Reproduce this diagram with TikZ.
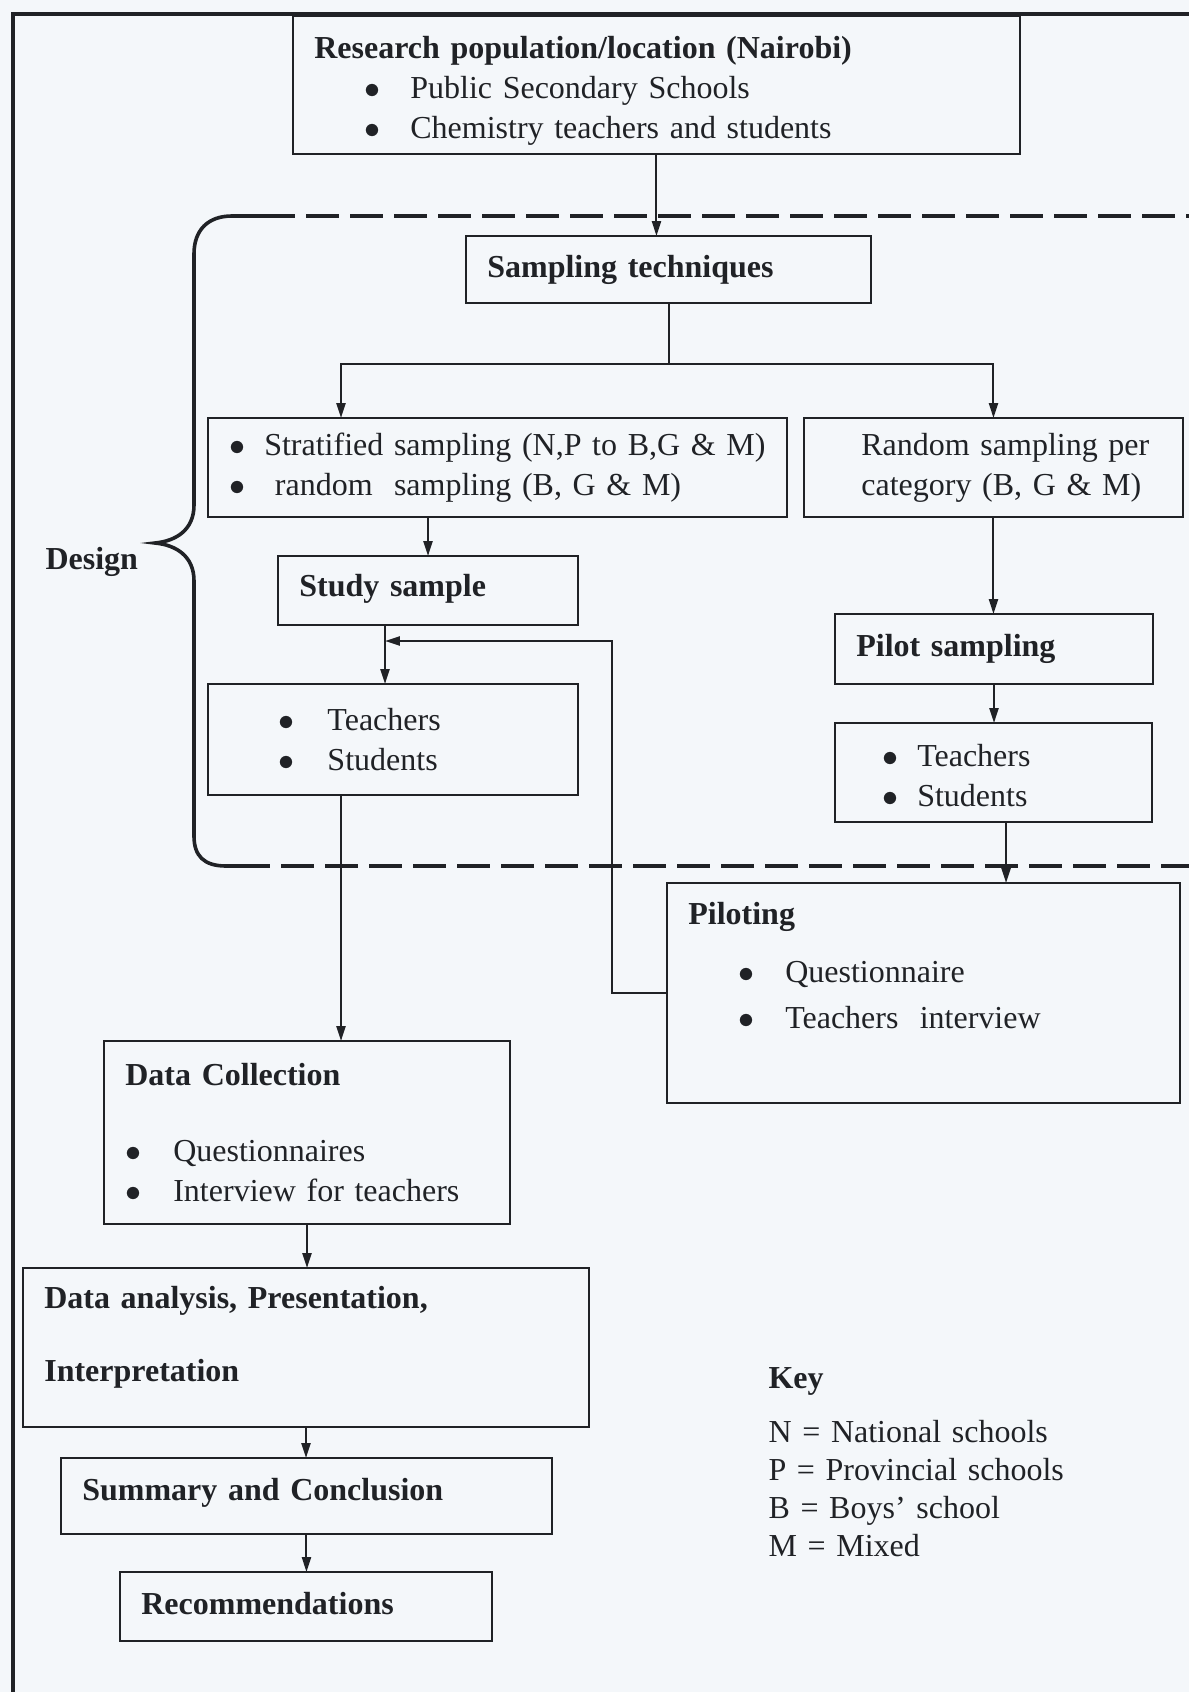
\documentclass[tikz,border=0pt]{standalone}
\usepackage{fontspec}
\setmainfont{Liberation Serif}
\usepackage{tikz}
\usetikzlibrary{arrows.meta}
\definecolor{ink}{RGB}{32,34,38}
\definecolor{paper}{RGB}{244,247,250}
\newcommand{\bpt}[2]{\hspace*{#1}\makebox[#2][l]{$\bullet$}}
\newcommand{\lift}[1]{\rule[-#1]{0pt}{#1}}
\newcommand{\sink}[1]{\rule{0pt}{#1}}

\begin{document}
\begin{tikzpicture}[x=0.375pt, y=-0.375pt,
    every node/.style={font=\fontsize{12}{15}\selectfont, text=ink},
    box/.style 2 args={draw=ink, line width=0.95pt, anchor=north west, align=left,
        inner xsep=8pt, inner ysep=0pt, outer sep=0pt, text width=#1, minimum height=#2},
    arr/.style={draw=ink, line width=0.75pt, -{Triangle[length=5.6pt,width=3.4pt]}},
    bracket/.style={draw=ink, line width=1.35pt},
    dashline/.style={bracket, dash pattern=on 12.2pt off 4.3pt}]
    \useasboundingbox (0,0) rectangle (1189,1692);
    \fill[paper] (0,0) rectangle (1189,1692);
    \draw[bracket, line width=1.5pt] (13,1692) -- (13,14) -- (1189,14);

    \node[box={256.6pt}{51.75pt}] (research) at (293,16) {\sink{13pt}\textbf{Research population/location (Nairobi)}\\
        \bpt{18.75pt}{17.25pt}Public Secondary Schools\\
        \bpt{18.75pt}{17.25pt}Chemistry teachers and students};
    \node[box={135.9pt}{25.1pt}] (sampling) at (466,236) {\textbf{Sampling techniques}};
    \node[box={201.1pt}{37.1pt}] (strat) at (208,418) {\bpt{0pt}{13.1pt}Stratified sampling (N,P to B,G \& M)\\
        \bpt{0pt}{13.1pt}\ random\ \ sampling (B, G \& M)};
    \node[box={126.1pt}{37.1pt}] (randcat) at (804,418) {\hspace*{13.5pt}Random sampling per\\
        \hspace*{13.5pt}category (B, G \& M)};
    \node[box={96.5pt}{25.9pt}] (study) at (278,556) {\textbf{Study sample}\lift{4.1pt}};
    \node[box={122.75pt}{41.6pt}] (lts) at (208,684) {\bpt{18.4pt}{18.4pt}Teachers\\ \bpt{18.4pt}{18.4pt}Students};
    \node[box={103.25pt}{26.25pt}] (pilots) at (835,614) {\textbf{Pilot sampling}};
    \node[box={102.9pt}{37.1pt}] (rts) at (835,723) {\sink{10.6pt}\bpt{9.75pt}{13.1pt}Teachers\\ \bpt{9.75pt}{13.1pt}Students};
    \node[box={176.4pt}{82.5pt}] (piloting) at (667,883) {\textbf{Piloting}\\[6.75pt]
        \bpt{18.75pt}{17.6pt}Questionnaire\\[2.25pt]
        \bpt{18.75pt}{17.6pt}Teachers\ \ interview\lift{21pt}};
    \node[box={136.25pt}{68.6pt}] (datacol) at (104,1041) {\textbf{Data Collection}\\[13.5pt]
        \bpt{0pt}{18pt}Questionnaires\\ \bpt{0pt}{18pt}Interview for teachers};
    \node[box={196.25pt}{59.6pt}] (analysis) at (23,1268) {\textbf{Data analysis, Presentation,}\\[12.4pt]
        \textbf{Interpretation}\lift{10.5pt}};
    \node[box={168.1pt}{28.5pt}] (summary) at (61,1458) {\textbf{Summary and Conclusion}\lift{5.25pt}};
    \node[box={123.5pt}{25.9pt}] (recom) at (120,1572) {\textbf{Recommendations}\lift{2.4pt}};

    \node[anchor=base west, inner sep=0pt] (design) at (45,569) {\textbf{Design}};
    \node[anchor=base west, inner sep=0pt, align=left, text width=6cm] (key) at (768,1388) {\textbf{Key}\\[5.25pt]
        N = National schools\\[-0.75pt] P = Provincial schools\\[-0.75pt] B = Boys’ school\\[-0.75pt] M = Mixed};

    % design bracket
    \draw[bracket] (262,216) -- (232,216) .. controls (208,216) and (194,230) .. (194,254) -- (194,505)
        .. controls (194,530) and (176,541) .. (155,543) .. controls (176,545) and (194,556) .. (194,581)
        -- (194,836) .. controls (194,856) and (204,866) .. (226,866) -- (237,866);
    \draw[dashline] (262,216) -- (1189,216);
    \draw[dashline] (237,866) -- (1189,866);

    \coordinate (lane) at (341,364);
    \coordinate (merge) at (385,641);
    \coordinate (loop) at (612,641);
    \coordinate (drop) at ([xshift=4.7pt]rts.south);

    \draw[arr] (research.south) -- (research.south |- sampling.north);
    \draw[arr] (sampling.south) |- (lane) -- (lane |- strat.north);
    \draw[arr] (sampling.south) |- (randcat.north |- lane) -- (randcat.north);
    \draw[arr] (study.north |- strat.south) -- (study.north);
    \draw[arr] (study.south -| merge) -- (lts.north -| merge);
    \draw[arr] (piloting.west) -| (loop) -- (merge);
    \draw[arr] (lts.south -| lane) -- (datacol.north -| lane);
    \draw[arr] (randcat.south) -- (randcat.south |- pilots.north);
    \draw[arr] (pilots.south) -- (pilots.south |- rts.north);
    \draw[arr] (drop) -- (drop |- piloting.north);
    \draw[arr] (datacol.south) -- (datacol.south |- analysis.north);
    \draw[arr] (analysis.south) -- (analysis.south |- summary.north);
    \draw[arr] (summary.south) -- (summary.south |- recom.north);
\end{tikzpicture}
\end{document}
